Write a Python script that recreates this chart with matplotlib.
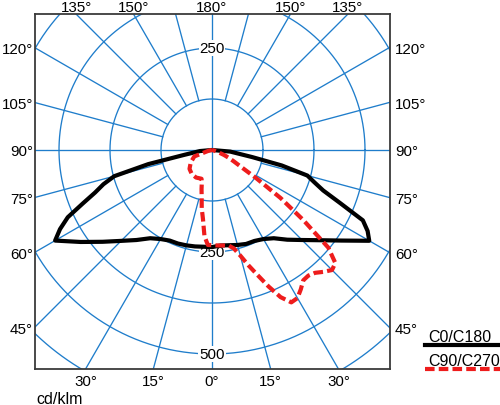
import numpy as np
import matplotlib
matplotlib.use("Agg")
import matplotlib.pyplot as plt
from matplotlib.lines import Line2D

# ---------------- data (cd/klm) ----------------
gamma_c0 = [0, 5, 10, 15, 20, 25, 30, 35, 40, 45, 50, 55, 60, 62.5, 65, 67.5, 70, 72.5, 75, 77.5, 80, 85, 90]
c180 = [238, 238, 240, 242, 244, 245, 252, 264, 288, 315, 350, 393, 444, 420, 390, 343, 305, 279, 248, 160, 70, 30, 0]  # left half
c0 = [238, 235, 237, 241, 245, 246, 252, 264, 287, 312, 344, 387, 445, 430, 408, 340, 290, 263, 242, 175, 100, 45, 0]   # right half

gamma_c270 = [0, 2.5, 5, 7.5, 10, 12.5, 15, 17.5, 20, 30, 40, 50, 60, 70, 75, 80, 90]
c270 = [233, 233, 212, 170, 145, 117, 99, 83, 75, 78, 77, 72, 60, 46, 12, 5, 0]                    # left half

gamma_c90 = [0, 2.5, 5, 7.5, 10, 12.5, 15, 17.5, 20, 22.5, 25, 27.5, 30, 32.5, 35, 37.5, 40,
             42.5, 45, 47.5, 50, 52.5, 55, 57.5, 60, 62.5, 65, 67.5, 70, 75, 80, 85, 90]
c90 = [233, 234, 235, 236, 238, 247, 268, 296, 326, 362, 398, 421, 419, 405, 390, 388, 393,
       405, 416, 410, 372, 282, 205, 128, 81, 60, 45, 32, 18, 6, 2, 0, 0]                          # right half

rings = [125, 250, 375, 500, 625, 750]
ring_label_values = [250, 250, 500]
ring_label_sides = [1, -1, -1]           # 1 = upward (180 deg), -1 = downward (0 deg)
spoke_angles = list(range(0, 360, 15))

bottom_ticks = [-30, -15, 0, 15, 30]
top_ticks = [-135, -150, 180, 150, 135]
side_ticks = [120, 105, 90, 75, 60, 45]

series_labels = ["C0/C180", "C90/C270"]

# ---------------- style ----------------
GRID = "#1f7dcb"
RED = "#ee1c1c"
FONT = "Liberation Sans"
plt.rcParams["font.family"] = [FONT, "DejaVu Sans"]
TICK_FS = 10.9
LW = 3.0
DASH = (0, (2.3, 1.0))

fig = plt.figure(figsize=(5.0, 4.06), dpi=100)
W, H = 500, 406
ax = fig.add_axes([35 / W, 36 / H, 355 / W, 355 / H])

s = 250 / 102.0  # cd per pixel
x0, x1 = (35 - 212) * s, (390 - 212) * s
y0, y1 = -(370 - 151) * s, (151 - 15) * s
ax.set_xlim(x0, x1)
ax.set_ylim(y0, y1)

# rings
t = np.linspace(0, 2 * np.pi, 721)
for r in rings:
    ax.plot(r * np.cos(t), r * np.sin(t), color=GRID, lw=0.95, zorder=1)

# spokes
for a in spoke_angles:
    g = np.deg2rad(a)
    rin = 0 if a % 90 == 0 else rings[0]
    ax.plot([rin * np.sin(g), 1000 * np.sin(g)], [-rin * np.cos(g), -1000 * np.cos(g)],
            color=GRID, lw=0.95, zorder=1)

# ring labels
for v, sd in zip(ring_label_values, ring_label_sides):
    ax.text(0, sd * v, str(v), ha="center", va="center", fontsize=TICK_FS, zorder=3,
            bbox=dict(boxstyle="square,pad=0.05", fc="white", ec="none"))


def half_curves(g_left, v_left, g_right, v_right):
    gl = np.deg2rad(np.asarray(g_left, float))[::-1]
    vl = np.asarray(v_left, float)[::-1]
    gr = np.deg2rad(np.asarray(g_right, float))
    vr = np.asarray(v_right, float)
    x = np.concatenate([-vl * np.sin(gl), vr * np.sin(gr)])
    y = np.concatenate([-vl * np.cos(gl), -vr * np.cos(gr)])
    return x, y


xb, yb = half_curves(gamma_c0, c180, gamma_c0, c0)
ax.plot(xb, yb, color="black", lw=LW, solid_joinstyle="round", solid_capstyle="round", zorder=4)
xr, yr = half_curves(gamma_c270, c270, gamma_c90, c90)
ax.plot(xr, yr, color=RED, lw=LW, linestyle=DASH, zorder=5)

# frame
for sp in ax.spines.values():
    sp.set_color("#3a3a3a")
    sp.set_linewidth(1.3)
    sp.set_zorder(6)

# ticks
ax.set_xticks([-y0 * np.tan(np.deg2rad(a)) for a in bottom_ticks])
ax.set_xticklabels([f"{abs(a)}°" for a in bottom_ticks])
ax.tick_params(axis="x", length=0, pad=3.6, labelsize=TICK_FS)
ax.set_yticks([x0 / np.tan(np.deg2rad(a)) if a != 90 else 0 for a in side_ticks])
ax.set_yticklabels([f"{a}°" for a in side_ticks])
ax.tick_params(axis="y", length=0, pad=1.4, labelsize=TICK_FS)

top = ax.secondary_xaxis("top")
top.set_xticks([y1 * np.tan(np.deg2rad(np.sign(a) * (180 - abs(a)))) for a in top_ticks])
top.set_xticklabels([f"{abs(a)}°" for a in top_ticks])
top.tick_params(length=0, pad=0, labelsize=TICK_FS)
top.spines["top"].set_visible(False)

right = ax.secondary_yaxis("right")
right.set_yticks([-x1 / np.tan(np.deg2rad(a)) if a != 90 else 0 for a in side_ticks])
right.set_yticklabels([f"{a}°" for a in side_ticks])
right.tick_params(length=0, pad=3.6, labelsize=TICK_FS)
right.spines["right"].set_visible(False)

# unit label
fig.text(36 / W, 1 - 404 / H, "cd/klm", fontsize=11.5, va="baseline", ha="left")

# legend (text above line)
fig.text(428 / W, 1 - 341.7 / H, series_labels[0], fontsize=11.5, va="baseline", ha="left")
fig.add_artist(Line2D([425 / W, 1.0], [1 - 345.7 / H] * 2, transform=fig.transFigure,
                      color="black", lw=LW))
fig.text(428 / W, 1 - 365.7 / H, series_labels[1], fontsize=11.5, va="baseline", ha="left")
fig.add_artist(Line2D([425 / W, 1.0], [1 - 369.5 / H] * 2, transform=fig.transFigure,
                      color=RED, lw=LW, linestyle=DASH))

fig.savefig("out.png", dpi=100, facecolor="white")
